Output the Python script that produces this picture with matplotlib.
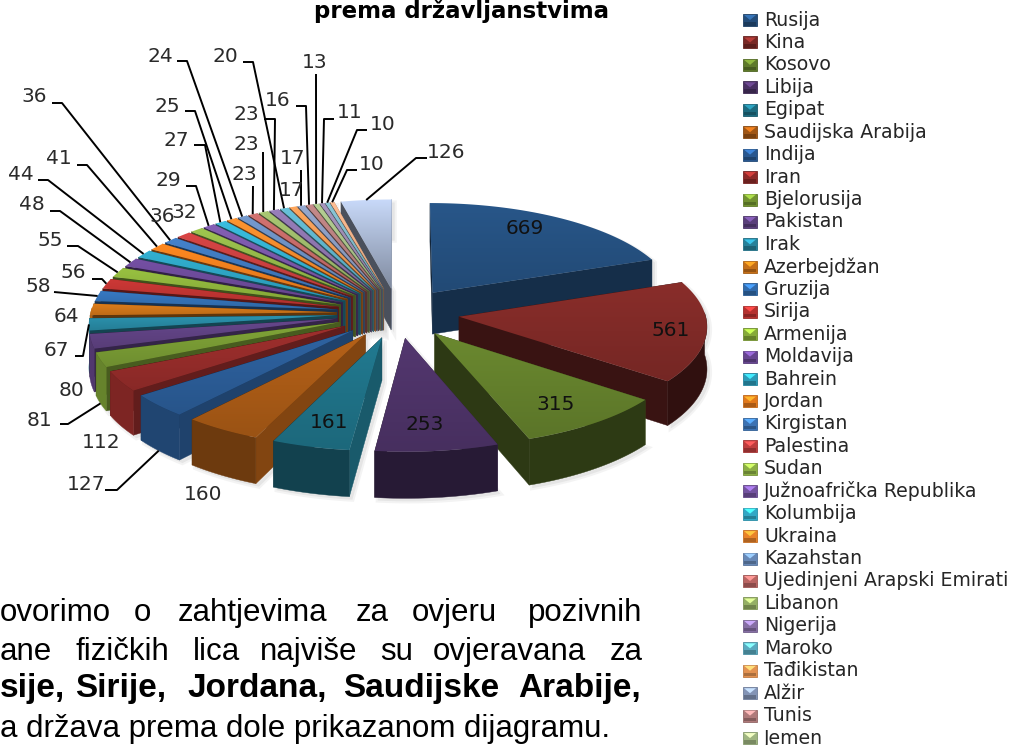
import numpy as np
import matplotlib
matplotlib.use("Agg")
import matplotlib.pyplot as plt
from matplotlib.patches import Polygon, Rectangle
from matplotlib.colors import to_rgb

categories = ["Rusija", "Kina", "Kosovo", "Libija", "Egipat", "Saudijska Arabija", "Indija", "Iran",
              "Bjelorusija", "Pakistan", "Irak", "Azerbejdžan", "Gruzija", "Sirija", "Armenija",
              "Moldavija", "Bahrein", "Jordan", "Kirgistan", "Palestina", "Sudan",
              "Južnoafrička Republika", "Kolumbija", "Ukraina", "Kazahstan",
              "Ujedinjeni Arapski Emirati", "Libanon", "Nigerija", "Maroko", "Tađikistan",
              "Alžir", "Tunis", "Jemen"]
values = [669, 561, 315, 253, 161, 160, 127, 112, 81, 80, 67, 64, 58, 56, 55, 48, 44, 41, 36, 36,
          32, 29, 27, 25, 24, 23, 23, 23, 20, 17, 17, 16, 13, 11, 10, 10, 126]
colors = ["#25507F", "#7F2A27", "#637F2C", "#4D3367", "#1F7186", "#A85A16",
          "#2B5C96", "#942C2A", "#789A34", "#5F4282", "#2888A2", "#CF7519",
          "#3370B4", "#BE3432", "#8DB33C", "#6C4A98", "#2EA3C2", "#EE7F1E",
          "#3F78BC", "#C94040", "#93B849", "#7A58A8", "#35B0CF", "#F58A2C",
          "#6C8FC0", "#C46A68", "#9DB96A", "#8D75AD", "#5FB3CA", "#EF9A55",
          "#8A9CC0", "#B88080", "#A8C088", "#9B8BB0", "#80B8C8", "#EEB088", "#A4B2CC"]
label_pos = [(525, 228), (671, 330), (556, 405), (425, 425), (329, 423), (203, 495), (86, 484),
             (101, 443), (40, 420), (72, 391), (56, 350), (66, 317), (38, 287), (73, 273), (50, 241),
             (32, 205), (21, 175), (59, 159), (34, 97), (162, 216), (184, 212), (168, 180), (176, 141),
             (167, 106), (160, 56), (244, 175), (246, 145), (246, 115), (225, 57), (292, 190),
             (293, 158), (278, 101), (315, 63), (350, 113), (383, 125), (372, 165), (446, 153)]
leader_elbows = {6: [(105, 490), (117, 490)], 8: [(60, 424), (68, 424)], 10: [(75, 356), (83, 356)],
                 12: [(54, 292)], 13: [(92, 279), (102, 279)], 14: [(67, 246), (78, 246)],
                 15: [(50, 211), (60, 211)], 16: [(38, 180), (48, 180)], 17: [(77, 165), (87, 165)],
                 18: [(52, 103), (62, 103)], 21: [(186, 186), (196, 186)], 22: [(194, 145), (205, 145)],
                 23: [(185, 111), (195, 111)], 24: [(177, 61), (187, 61)], 25: [(253, 186)],
                 26: [(263, 152)], 27: [(264, 119), (275, 119)], 28: [(243, 62), (253, 62)],
                 30: [(301, 170)], 31: [(296, 106), (306, 106)], 32: [(316, 74)],
                 33: [(334, 119), (324, 119)], 34: [(367, 130), (357, 130)],
                 35: [(357, 170), (347, 170)], 36: [(427, 158), (416, 158)]}
leader_to_base = {6, 8}

CX, CY, R, A, P, E, DEPTH = 398, 313, 246, 100, 0.08, 0.25, 42

fig = plt.figure(figsize=(10.16, 7.45), dpi=100)
ax = fig.add_axes([0, 0, 1, 1])
NARROW = ["Liberation Sans", "DejaVu Sans"]


def project(px, py, z=0.0):
    s = 1.0 / (1.0 - P * py)
    return CX + R * px * s, CY + A * py * s + z * s


def shade(color, f):
    return tuple(min(1, c * f) for c in to_rgb(color))


angles = np.concatenate([[0], np.cumsum(values)]) / np.sum(values) * 2 * np.pi
order = sorted(range(len(values)), key=lambda i: -np.cos((angles[i] + angles[i + 1]) / 2))


def slice_geom(i):
    mid = (angles[i] + angles[i + 1]) / 2
    ox, oy = E * np.sin(mid), -E * np.cos(mid)
    th = np.linspace(angles[i], angles[i + 1], max(6, int(values[i] / 6)))
    return mid, ox, oy, th, ox + np.sin(th), oy - np.cos(th)


# faint drop shadow on the background
for i in range(len(values)):
    mid, ox, oy, th, ax_, ay_ = slice_geom(i)
    tx, ty = project(np.r_[ox, ax_], np.r_[oy, ay_])
    bx, by = project(np.r_[ox, ax_], np.r_[oy, ay_], DEPTH)
    pts = np.r_[np.c_[tx, ty], np.c_[bx, by][::-1]]
    ax.add_patch(Polygon(pts + [3, 3], closed=True, fc="#c4c4c4", ec="#e2e2e2", lw=3, alpha=0.4, zorder=0.5))

z = 1.0
for i in order:
    mid, ox, oy, th, px, py = slice_geom(i)
    col = colors[i]
    faces = []
    for ang, sign, j in ((angles[i], -1, 0), (angles[i + 1], 1, -1)):
        nrm = ang + sign * np.pi / 2
        f = 0.45 + 0.35 * max(0.0, np.sin(nrm))
        q = np.array([project(ox, oy), project(px[j], py[j]),
                      project(px[j], py[j], DEPTH), project(ox, oy, DEPTH)])
        faces.append((-np.cos(nrm), q, f))
    faces.sort(key=lambda t: t[0])
    for _, q, f in faces:
        z += 0.01
        ax.add_patch(Polygon(q, closed=True, fc=shade(col, f), ec=shade(col, f), lw=0.3, zorder=z))
    # outer wall: only the part of the rim that faces the viewer
    deg = np.degrees(mid)
    fo = np.interp(deg, [100, 170, 195, 212, 240], [0.38, 0.5, 0.58, 0.65, 0.85])
    front = np.cos(th) < 0.05
    tx, ty = project(px, py)
    if front.sum() >= 2:
        bx, by = project(px[front], py[front], DEPTH)
        z += 0.01
        ax.add_patch(Polygon(np.r_[np.c_[tx[front], ty[front]], np.c_[bx, by][::-1]], closed=True,
                             fc=shade(col, fo), ec=shade(col, fo), lw=0.3, zorder=z))
    # top surface with a vertical gradient
    z += 0.01
    axx, ayy = project(ox, oy)
    poly = np.r_[[[axx, ayy]], np.c_[tx, ty]]
    hi, lo = (1.22, 0.78) if i == len(values) - 1 else (1.08, 0.92)
    grad = np.linspace(0, 1, 64)[:, None, None] * (np.array(shade(col, lo)) - np.array(shade(col, hi))) + np.array(shade(col, hi))
    im = ax.imshow(grad, extent=(poly[:, 0].min(), poly[:, 0].max(), poly[:, 1].max(), poly[:, 1].min()),
                   aspect="auto", interpolation="bilinear", zorder=z)
    clip = Polygon(poly, closed=True, transform=ax.transData, fc="none", ec="none")
    im.set_clip_path(clip)

# value labels and leader lines
for i, (v, (lx, ly)) in enumerate(zip(values, label_pos)):
    ax.text(lx, ly, str(v), family="DejaVu Sans", fontsize=14.5, color="#2a2a2a" if i > 4 else "#111111",
            ha="center", va="center", zorder=50)
    if i in leader_elbows:
        mid = (angles[i] + angles[i + 1]) / 2
        ex, ey = project((E + 1) * np.sin(mid), -(E + 1) * np.cos(mid), DEPTH if i in leader_to_base else 0)
        pts = np.array(leader_elbows[i] + [(ex, ey)])
        ax.plot(pts[:, 0], pts[:, 1], color="black", lw=1.4, zorder=40, solid_capstyle="butt")

# title
ax.text(462, 11, "prema državljanstvima", family="DejaVu Sans", fontweight="bold",
        fontsize=16.5, ha="center", va="center", color="black", zorder=60)

# legend
LEG_Y0, LEG_DY = 20, 22.44
for k, name in enumerate(categories):
    y = LEG_Y0 + k * LEG_DY
    col = colors[k]
    ax.add_patch(Rectangle((743, y - 6), 14, 12, fc=shade(col, 0.95), ec=shade(col, 0.8), lw=0.6, zorder=10))
    ax.add_patch(Polygon([(744, y - 5), (756, y - 5), (750, y)], closed=True, fc=shade(col, 1.45), ec="none", zorder=11))
    ax.add_patch(Rectangle((744, y + 2), 12, 3.5, fc=shade(col, 0.72), ec="none", zorder=11))
    ax.text(764, y, name, family="DejaVu Sans", fontsize=13.6, color="#262626",
            ha="left", va="center", zorder=12)

# paragraph below the chart, justified word by word
para = [
    (613, False, [("ovorimo", 0), ("o", 134), ("zahtjevima", 178), ("za", 356), ("ovjeru", 412), ("pozivnih", 528)]),
    (652, False, [("ane", 0), ("fizičkih", 75), ("lica", 193), ("najviše", 260), ("su", 380), ("ovjeravana", 433), ("za", 610)]),
    (688, True, [("sije,", 0), ("Sirije,", 75), ("Jordana,", 187), ("Saudijske", 343), ("Arabije,", 518)]),
    (729, False, [("a država prema dole prikazanom dijagramu.", 0)]),
]
for y, bold, words in para:
    for w, x in words:
        ax.text(x, y, w, family=NARROW, fontsize=24 if bold else 22.5, fontweight="bold" if bold else "normal",
                color="black", ha="left", va="center", zorder=60)

ax.set_xlim(0, 1016)
ax.set_ylim(745, 0)
ax.axis("off")
fig.savefig("out.png", dpi=100)
